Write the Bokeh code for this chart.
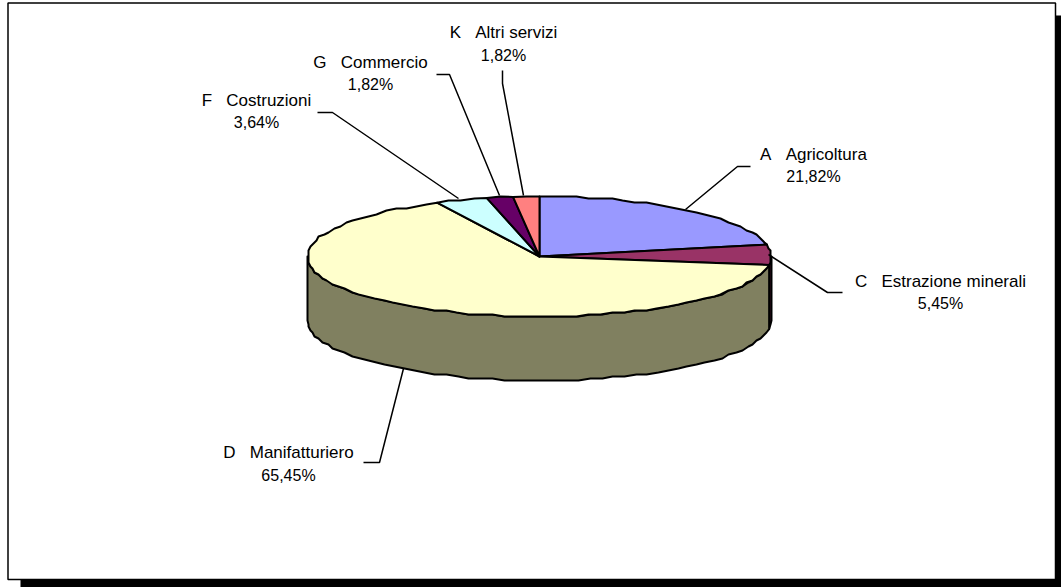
import math
from bokeh.plotting import figure
from bokeh.models import Range1d
from bokeh.core.properties import value
from bokeh.embed import file_html
from bokeh.resources import INLINE

categories = ["A   Agricoltura", "C   Estrazione minerali", "D   Manifatturiero",
              "F   Costruzioni", "G   Commercio", "K   Altri servizi"]
shares = [21.82, 5.45, 65.45, 3.64, 1.82, 1.82]
top_colors = ["#9999FF", "#993366", "#FFFFCC", "#CCFFFF", "#660066", "#FF8080"]
side_colors = ["#4D4D80", "#4D1A33", "#808060", "#668080", "#330033", "#804040"]

W, H = 1061, 587
CX, CY, RX, RY, DEPTH = 539, 256, 232, 60, 64
FONT = "Liberation Sans"
FS_NAME = "17px"
FS_PCT = "16px"

# label layout: (x centre, y line 1, y line 2) and leader polyline, per category
label_pos = [(813, 154, 176), (940, 281, 303), (288, 452, 475),
             (256, 100, 122), (370, 62, 84), (503, 32, 55)]
leaders = [[(750, 166), (737, 166), (685, 209)],
           [(842, 292), (827, 292), (768, 254)],
           [(363, 462), (379, 462), (403, 368)],
           [(317, 112), (332, 112), (458, 198)],
           [(436, 74), (449, 74), (499, 195)],
           [(502, 70), (502, 83), (523, 195)]]


def rim(deg, dy=0, snap=True):
    a = math.radians(deg)
    x = CX + RX * math.sin(a)
    y = CY - RY * math.cos(a) + dy
    if snap:  # coarse raster look of the source outline
        return round(x / 2) * 2, round(y / 2) * 2
    return x, y


def arc(d0, d1, dy=0, step=3.0):
    n = max(1, int(abs(d1 - d0) / step))
    pts = [rim(d0 + (d1 - d0) * i / n, dy, 0 < i < n) for i in range(n + 1)]
    return pts


p = figure(width=W, height=H, x_range=Range1d(0, W), y_range=Range1d(H, 0),
           toolbar_location=None, output_backend="svg", min_border=0,
           outline_line_color=None,
           background_fill_color="white", border_fill_color="white")
p.axis.visible = False
p.grid.visible = False

# chart area: shadow and framed panel
p.quad(left=20, right=W + 5, top=15, bottom=H + 5, fill_color="black", line_color=None)
p.quad(left=7.5, right=1055, top=2.5, bottom=579, fill_color="white",
       line_color="black", line_width=1.5)

total = sum(shares)
edges = [0.0]
for s in shares:
    edges.append(edges[-1] + s / total * 360)

# side wall (front half only)
for i in range(len(shares)):
    d0, d1 = max(edges[i], 90), min(edges[i + 1], 270)
    if d1 <= d0:
        continue
    upper = arc(d0, d1)
    lower = arc(d1, d0, DEPTH)
    pts = upper + lower
    p.patch([q[0] for q in pts], [q[1] for q in pts], fill_color=side_colors[i],
            line_color="black", line_width=2, line_join="round")

# top slices
for i in range(len(shares)):
    pts = [(CX, CY)] + arc(edges[i], edges[i + 1])
    p.patch([q[0] for q in pts], [q[1] for q in pts], fill_color=top_colors[i],
            line_color="black", line_width=2, line_join="round")

# leaders and labels
for i, name in enumerate(categories):
    pts = leaders[i]
    p.line([q[0] for q in pts], [q[1] for q in pts], line_color="black", line_width=1.5)
    x, y1, y2 = label_pos[i]
    pct = f"{shares[i]:.2f}%".replace(".", ",")
    p.text([x], [y1], text=[name.replace(" ", "\u00a0")], text_font=value(FONT), text_font_size=FS_NAME,
           text_align="center", text_baseline="middle", text_color="black")
    p.text([x], [y2], text=[pct], text_font=value(FONT), text_font_size=FS_PCT,
           text_align="center", text_baseline="middle", text_color="black")

open("out.html", "w").write(file_html(p, INLINE))
